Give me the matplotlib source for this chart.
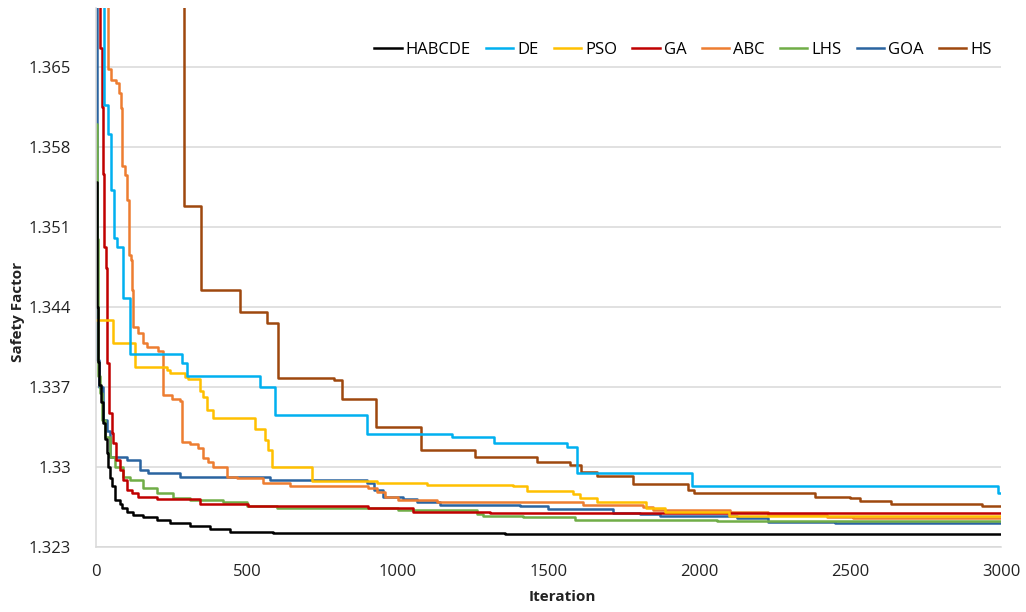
import matplotlib.pyplot as plt

# best safety factor found so far, sampled where each run improved
# (iteration at which the value starts, value)
habcde_it = [0, 4, 6, 10, 16, 23, 30, 36, 40, 46, 53, 63, 80, 86, 103, 123, 156, 202, 245, 312, 378, 444, 587, 1356]
habcde_sf = [1.3550, 1.3440, 1.3392, 1.3372, 1.3357, 1.3339, 1.3325, 1.3312, 1.3300, 1.3290, 1.3283, 1.3271,
             1.3268, 1.3264, 1.3261, 1.3258, 1.3256, 1.3254, 1.3251, 1.3248, 1.3246, 1.3243, 1.3242, 1.3241]

de_it = [0, 27, 40, 50, 60, 70, 90, 113, 285, 300, 544, 593, 898, 1180, 1319, 1561, 1594, 1976, 2990]
de_sf = [1.3900, 1.3617, 1.3592, 1.3543, 1.3501, 1.3493, 1.3448, 1.3399, 1.3391, 1.3380, 1.3370, 1.3346,
         1.3329, 1.3326, 1.3321, 1.3318, 1.3295, 1.3283, 1.3277]

pso_it = [0, 56, 129, 234, 245, 295, 305, 345, 355, 368, 388, 527, 560, 570, 583, 716, 930, 1097, 1382,
          1429, 1581, 1604, 1660, 1823, 1886, 2100]
pso_sf = [1.3429, 1.3409, 1.3388, 1.3385, 1.3382, 1.3379, 1.3377, 1.3367, 1.3361, 1.3350, 1.3343, 1.3333,
          1.3324, 1.3315, 1.3300, 1.3288, 1.3286, 1.3284, 1.3283, 1.3279, 1.3276, 1.3273, 1.3269, 1.3264,
          1.3261, 1.3257]

ga_it = [0, 14, 20, 23, 26, 33, 37, 43, 53, 57, 66, 80, 90, 103, 119, 139, 202, 345, 504, 900, 1051, 1306]
ga_sf = [1.3750, 1.3667, 1.3615, 1.3557, 1.3493, 1.3474, 1.3391, 1.3347, 1.3330, 1.3321, 1.3306, 1.3297,
         1.3289, 1.3280, 1.3277, 1.3274, 1.3272, 1.3268, 1.3266, 1.3264, 1.3261, 1.3260]

abc_it = [0, 40, 50, 66, 76, 83, 86, 96, 102, 109, 116, 119, 121, 123, 139, 156, 169, 206, 222, 252, 278,
          285, 312, 338, 355, 371, 388, 434, 467, 554, 643, 900, 930, 958, 1001, 1130, 1614, 1813, 1846,
          2102, 2228, 2423, 2510]
abc_sf = [1.3900, 1.3649, 1.3639, 1.3636, 1.3628, 1.3614, 1.3564, 1.3556, 1.3534, 1.3486, 1.3481, 1.3455,
          1.3435, 1.3423, 1.3417, 1.3409, 1.3405, 1.3402, 1.3363, 1.3360, 1.3358, 1.3322, 1.3320, 1.3317,
          1.3308, 1.3304, 1.3300, 1.3291, 1.3290, 1.3286, 1.3283, 1.3282, 1.3278, 1.3274, 1.3271, 1.3269,
          1.3267, 1.3265, 1.3262, 1.3261, 1.3258, 1.3256, 1.3255]

lhs_it = [0, 3, 5, 7, 12, 20, 30, 46, 63, 90, 113, 156, 202, 255, 312, 421, 500, 600, 1000, 1263, 1283,
          1415, 1588, 2059]
lhs_sf = [1.3600, 1.3500, 1.3420, 1.3380, 1.3365, 1.3341, 1.3326, 1.3309, 1.3300, 1.3291, 1.3289, 1.3282,
          1.3277, 1.3273, 1.3271, 1.3269, 1.3266, 1.3264, 1.3262, 1.3259, 1.3257, 1.3256, 1.3254, 1.3253]

goa_it = [0, 3, 10, 23, 36, 46, 103, 146, 172, 278, 577, 898, 920, 951, 1018, 1064, 1140, 1406, 1498,
          1714, 1803, 1870, 2125, 2228, 2450]
goa_sf = [1.3800, 1.3394, 1.3370, 1.3341, 1.3332, 1.3309, 1.3306, 1.3297, 1.3295, 1.3291, 1.3289, 1.3286,
          1.3280, 1.3274, 1.3272, 1.3269, 1.3267, 1.3266, 1.3263, 1.3260, 1.3259, 1.3257, 1.3255, 1.3252,
          1.3251]

hs_it = [0, 292, 348, 477, 567, 603, 789, 816, 928, 1077, 1256, 1462, 1571, 1608, 1661, 1780, 1963, 1982,
         2383, 2500, 2533, 2635, 2937]
hs_sf = [1.4000, 1.3529, 1.3455, 1.3436, 1.3426, 1.3378, 1.3376, 1.3360, 1.3335, 1.3315, 1.3309, 1.3304,
         1.3302, 1.3296, 1.3292, 1.3285, 1.3280, 1.3277, 1.3274, 1.3273, 1.3270, 1.3268, 1.3266]

names = ['HABCDE', 'DE', 'PSO', 'GA', 'ABC', 'LHS', 'GOA', 'HS']
colors = ['#000000', '#00B0F0', '#FFC000', '#C00000', '#ED7D31', '#70AD47', '#2A64A0', '#9E480E']
runs = [(habcde_it, habcde_sf), (de_it, de_sf), (pso_it, pso_sf), (ga_it, ga_sf),
        (abc_it, abc_sf), (lhs_it, lhs_sf), (goa_it, goa_sf), (hs_it, hs_sf)]

n_iter = 3000
yticks = [1.323, 1.33, 1.337, 1.344, 1.351, 1.358, 1.365]

plt.rcParams['font.family'] = ['Open Sans', 'DejaVu Sans']

fig = plt.figure(figsize=(10.26, 6.12), dpi=100)
ax = fig.add_axes([96 / 1026, 1 - 547 / 612, 905 / 1026, 539 / 612])

# draw in reverse so HABCDE ends up on top
for (it, sf), name, c in reversed(list(zip(runs, names, colors))):
    ax.step(list(it) + [n_iter], list(sf) + [sf[-1]], where='post', color=c, lw=1.8, label=name)

ax.set_xlim(0, n_iter)
ax.set_ylim(1.323, 1.3702)
ax.set_xticks(range(0, 3001, 500))
ax.set_yticks(yticks)
ax.set_yticklabels([('%.3f' % v).rstrip('0') for v in yticks])
ax.tick_params(length=0, labelsize=12, colors='#222222')
ax.tick_params(axis='y', pad=18)
ax.tick_params(axis='x', pad=12)
ax.grid(axis='y', color='#D9D9D9', lw=1.1)
ax.set_axisbelow(True)
for s in ['top', 'right']:
    ax.spines[s].set_visible(False)
for s in ['left', 'bottom']:
    ax.spines[s].set_color('#D9D9D9')
    ax.spines[s].set_linewidth(1.1)

fig.text(18 / 1026, 1 - 312 / 612, 'Safety Factor', rotation=90, ha='center', va='center',
         fontsize=11, fontweight='bold', color='#222222')
fig.text(562 / 1026, 1 - 597 / 612, 'Iteration', ha='center', va='center',
         fontsize=11, fontweight='bold', color='#222222')

h, l = ax.get_legend_handles_labels()
order = [l.index(n) for n in names]
fig.legend([h[i] for i in order], names, loc='center', bbox_to_anchor=(683 / 1026, 1 - 50 / 612),
           ncol=8, frameon=False, fontsize=12, handlelength=1.65, handletextpad=0.25,
           columnspacing=0.9, borderpad=0)

fig.savefig('out.png', dpi=100)
